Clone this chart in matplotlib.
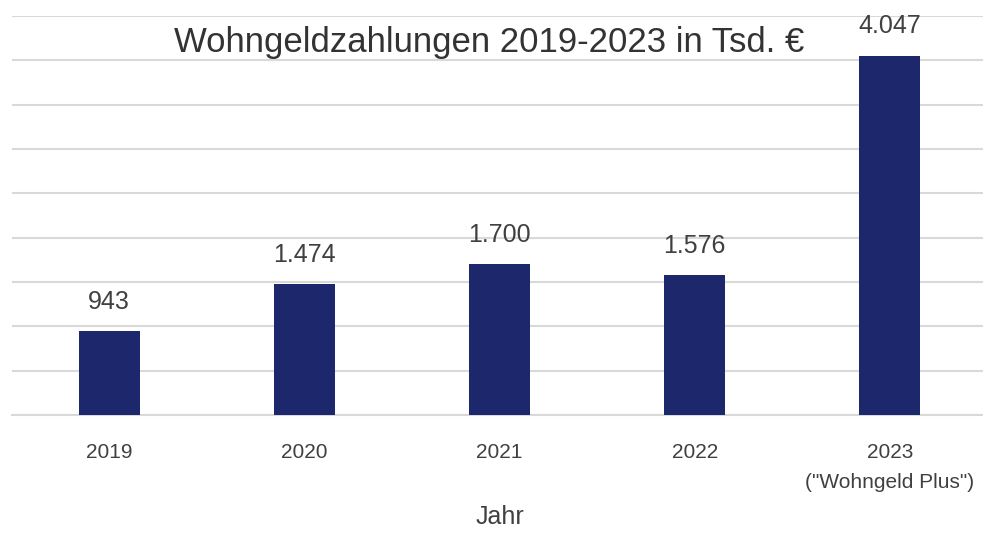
import matplotlib
matplotlib.use("Agg")
import matplotlib.pyplot as plt
import numpy as np

# Wohngeldzahlungen in Tsd. EUR
years = ["2019", "2020", "2021", "2022", "2023\n(\"Wohngeld Plus\")"]
values = [943, 1474, 1700, 1576, 4047]

BAR = "#1c286b"
TXT = "#404040"
GRID = "#d9d9d9"

plt.rcParams["font.family"] = ["Liberation Sans", "DejaVu Sans"]

fig = plt.figure(figsize=(9.83, 5.33), dpi=100)
ax = fig.add_axes([11.5/983, 1 - 415/533, 976/983, 399/533])

x = np.arange(len(values))
ax.bar(x, values, width=0.313, color=BAR, zorder=3)
for xi, v in zip(x, values):
    lab = f"{v:,}".replace(",", ".")
    ax.text(xi, v + 200, lab, ha="center", va="bottom", fontsize=18, color=TXT)

ax.set_xlim(-0.5, len(values) - 0.5)
ax.set_ylim(0, 4500)
ax.set_yticks(np.arange(0, 4501, 500))
ax.yaxis.grid(True, color=GRID, lw=1.5, zorder=0)
ax.tick_params(axis="y", left=False, labelleft=False)
ax.set_xticks(x)
ax.set_xticklabels(years, fontsize=15, color=TXT, linespacing=1.75)
ax.tick_params(axis="x", length=0, pad=20)
for s in ["top", "right", "left"]:
    ax.spines[s].set_visible(False)
ax.spines["bottom"].set_color(GRID)
ax.spines["bottom"].set_linewidth(1.5)

ax.set_xlabel("Jahr", fontsize=18, color=TXT, labelpad=9)
fig.text(0.498, 0.921, "Wohngeldzahlungen 2019-2023 in Tsd. €", ha="center", va="center",
         fontsize=25, color="#333333")

fig.savefig("out.png", dpi=100)
